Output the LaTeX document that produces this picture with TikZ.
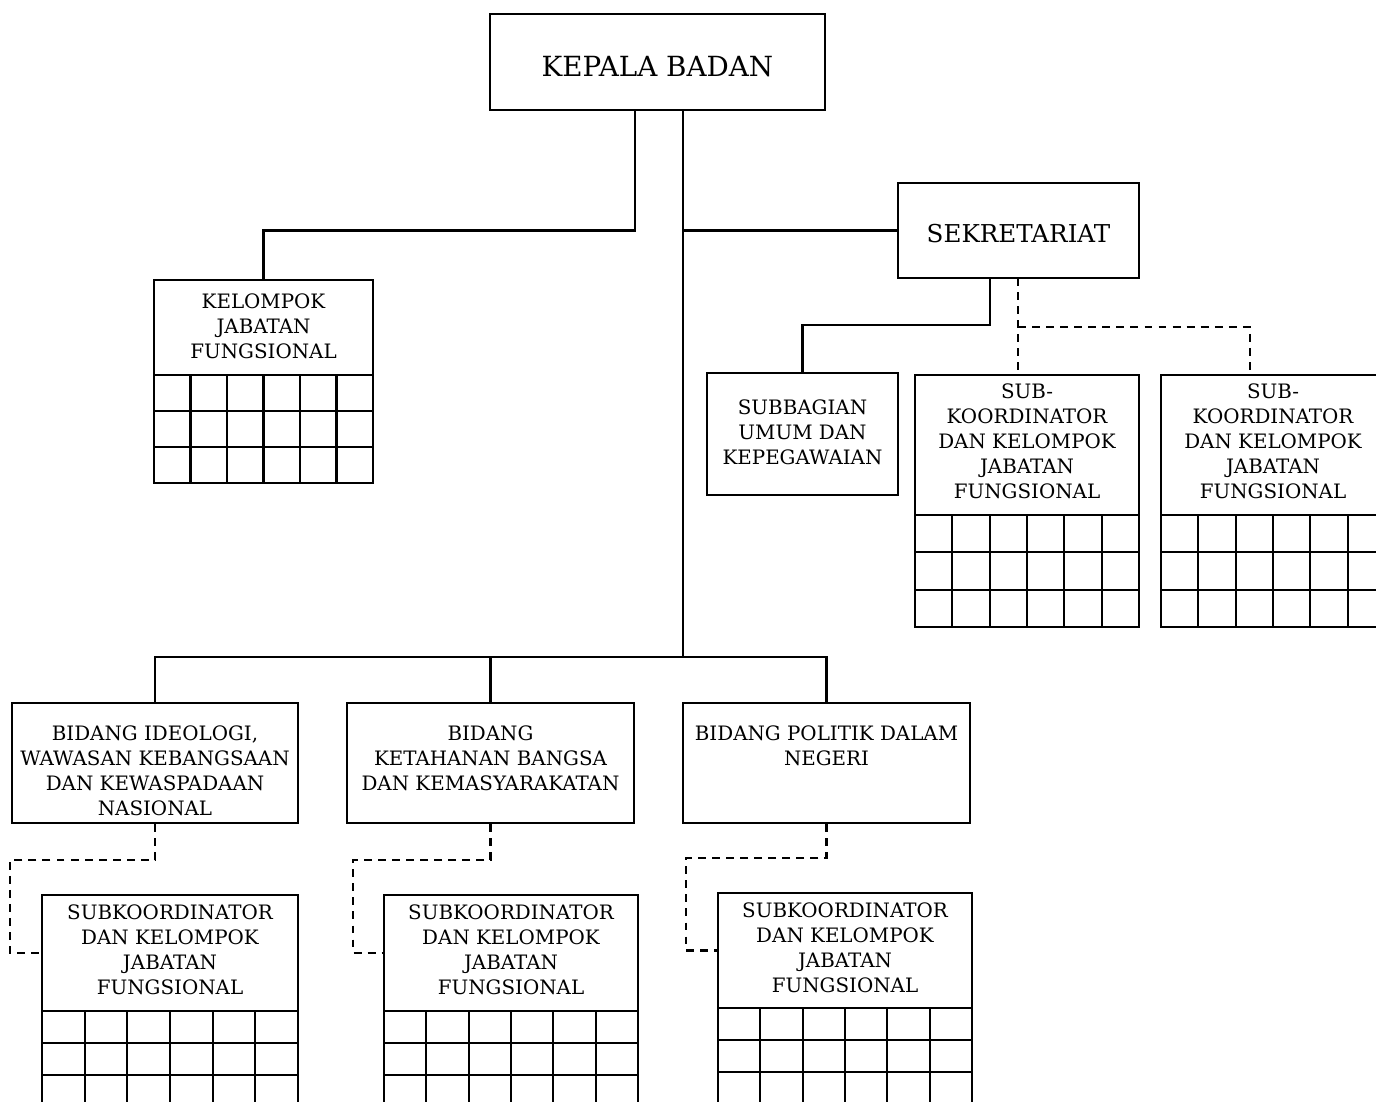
\documentclass[tikz,border=0pt]{standalone}
\usepackage{fontspec}
\setmainfont{DejaVu Serif}
\usetikzlibrary{fit}

\begin{document}
\begin{tikzpicture}[x=0.02cm,y=-0.02cm,line width=1.2pt,
  box/.style={draw,inner sep=0pt},
  lbl/.style={inner sep=0pt,align=center,font=\fontsize{11.3}{14.2}\selectfont},
  dashline/.style={dash pattern=on 4.5pt off 3.5pt}]

  \useasboundingbox (0,0) rectangle (1376,1102);
  \clip (0,0) rectangle (1376,1102);

  % boxes
  \node[box,fit={(490,14) (825,110)},label={[lbl,yshift=-0.1cm,font=\fontsize{15.8}{18}\selectfont]center:KEPALA BADAN}] (kb) {};
  \node[box,fit={(898,183) (1139,278)},label={[lbl,yshift=-0.06cm,font=\fontsize{14}{16}\selectfont]center:SEKRETARIAT}] (sk) {};
  \node[box,fit={(154,280) (373,375)},label={[lbl,anchor=north,yshift=-0.27cm]north:KELOMPOK\\JABATAN\\FUNGSIONAL}] (kjf) {};
  \node[box,fit={(707,373) (898,495)},label={[lbl,yshift=0.03cm]center:SUBBAGIAN\\UMUM DAN\\KEPEGAWAIAN}] (su) {};
  \node[box,fit={(915,375) (1139,515)},label={[lbl,anchor=north,yshift=-0.18cm]north:SUB-\\KOORDINATOR\\DAN KELOMPOK\\JABATAN\\FUNGSIONAL}] (ks1) {};
  \node[box,fit={(1161,375) (1385,515)},label={[lbl,anchor=north,yshift=-0.18cm]north:SUB-\\KOORDINATOR\\DAN KELOMPOK\\JABATAN\\FUNGSIONAL}] (ks2) {};
  \node[box,fit={(12,703) (298,823)},label={[lbl,anchor=north,yshift=-0.46cm]north:BIDANG IDEOLOGI,\\WAWASAN KEBANGSAAN\\DAN KEWASPADAAN\\NASIONAL}] (b1) {};
  \node[box,fit={(347,703) (634,823)},label={[lbl,anchor=north,yshift=-0.46cm]north:BIDANG\\KETAHANAN BANGSA\\DAN KEMASYARAKATAN}] (b2) {};
  \node[box,fit={(683,703) (970,823)},label={[lbl,anchor=north,yshift=-0.46cm]north:BIDANG POLITIK DALAM\\NEGERI}] (b3) {};
  \node[box,fit={(42,895) (298,1011)},label={[lbl,anchor=north,yshift=-0.2cm]north:SUBKOORDINATOR\\DAN KELOMPOK\\JABATAN\\FUNGSIONAL}] (g1) {};
  \node[box,fit={(384,895) (638,1011)},label={[lbl,anchor=north,yshift=-0.2cm]north:SUBKOORDINATOR\\DAN KELOMPOK\\JABATAN\\FUNGSIONAL}] (g2) {};
  \node[box,fit={(718,893) (972,1008)},label={[lbl,anchor=north,yshift=-0.2cm]north:SUBKOORDINATOR\\DAN KELOMPOK\\JABATAN\\FUNGSIONAL}] (g3) {};

  % grids under the boxes
  \foreach \gx/\gy/\gw/\gh in {154/375/219/36, 915/515/224/37.3, 1161/515/224/37.3,
      42/1011/256/32, 384/1011/254/32, 718/1008/254/32} {
    \foreach \i in {0,...,6}
      \draw[line cap=rect] (\gx+\i*\gw/6,\gy) -- ++(0,3*\gh);
    \foreach \j in {0,...,3}
      \draw[line cap=rect] (\gx,\gy+\j*\gh) -- ++(\gw,0);
  }

  % solid lines
  \coordinate (k1) at (635,110);
  \coordinate (k2) at (683,110);
  \coordinate (bus) at (683,657);
  \coordinate (s1) at (990,278);
  \draw (k1) -- (k1 |- sk.west) -| (kjf.north);
  \draw (k2) -- (bus);
  \draw (k2 |- sk.west) -- (sk.west);
  \draw (b1.north) |- (bus) -| (b3.north);
  \draw (b2.north) -- (b2.north |- bus);
  \draw (s1) -- ++(0,47) -| (su.north);

  % dashed lines
  \coordinate (s2) at (1018,278);
  \coordinate (s3) at (1250,375);
  \coordinate (d1) at (10,860);
  \coordinate (d2) at (353,860);
  \coordinate (d3) at (686,858);
  \draw[dashline] (s2) -- (s2 |- ks1.north);
  \draw[dashline] (s2) ++(0,49) -| (s3);
  \draw[dashline] (b1.south) |- (d1) |- (g1.west);
  \draw[dashline] (b2.south) |- (d2) |- (g2.west);
  \draw[dashline] (b3.south) |- (d3) |- (g3.west);
\end{tikzpicture}
\end{document}
